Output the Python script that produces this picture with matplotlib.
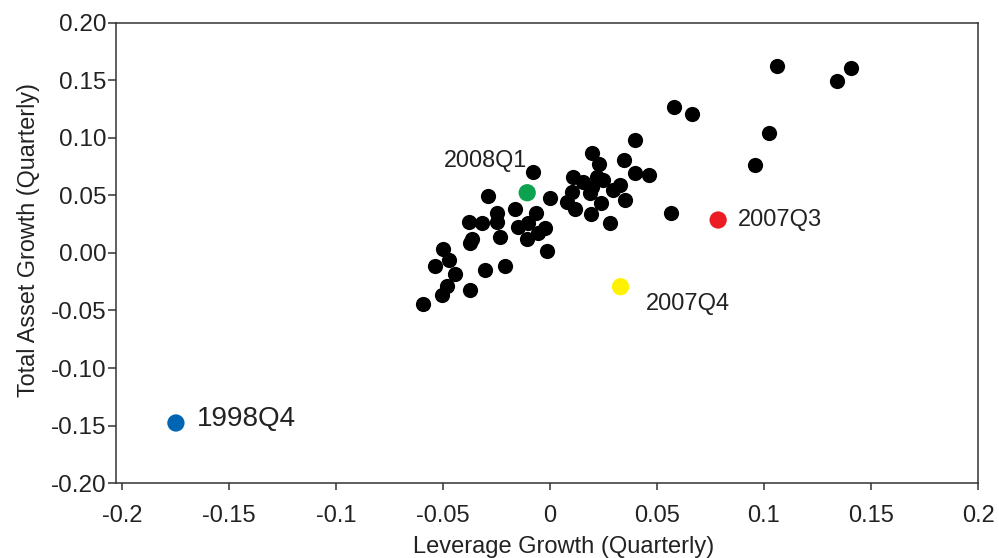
import matplotlib
matplotlib.use('Agg')
import matplotlib.pyplot as plt

# quarterly leverage growth vs total asset growth
lev_growth = [0.1059, 0.1406, 0.1339, 0.0579, 0.0662, 0.1024, 0.0958, 0.0568,
              0.0397, 0.0199, 0.0346, 0.0230, 0.0106, 0.0156, 0.0218, 0.0249,
              0.0397, 0.0464, 0.0195, 0.0327, 0.0296, 0.0101, 0.0187, 0.0000,
              0.0078, 0.0350, 0.0241, 0.0117, 0.0190, 0.0280,
              -0.0081, -0.0288, -0.0163, -0.0246, -0.0246, -0.0065, -0.0377, -0.0319,
              -0.0148, -0.0101, -0.0023, -0.0055, -0.0109, -0.0234, -0.0366, -0.0374,
              -0.0015, -0.0498, -0.0470, -0.0537, -0.0210, -0.0304, -0.0444, -0.0482,
              -0.0506, -0.0374, -0.0595]
asset_growth = [0.1626, 0.1611, 0.1498, 0.1267, 0.1209, 0.1041, 0.0765, 0.0350,
                0.0983, 0.0872, 0.0809, 0.0771, 0.0663, 0.0620, 0.0663, 0.0635,
                0.0693, 0.0678, 0.0577, 0.0591, 0.0548, 0.0533, 0.0519, 0.0476,
                0.0446, 0.0461, 0.0432, 0.0380, 0.0339, 0.0263,
                0.0707, 0.0496, 0.0380, 0.0345, 0.0272, 0.0350, 0.0272, 0.0258,
                0.0229, 0.0258, 0.0215, 0.0171, 0.0119, 0.0142, 0.0119, 0.0084,
                0.0020, 0.0032, -0.0061, -0.0113, -0.0113, -0.0148, -0.0183, -0.0287,
                -0.0365, -0.0322, -0.0443]

# highlighted quarters
hl_labels = ['1998Q4', '2008Q1', '2007Q3', '2007Q4']
hl_lev = [-0.1747, -0.0106, 0.0786, 0.0330]
hl_asset = [-0.1478, 0.0524, 0.0287, -0.0293]
hl_colors = ['#0065b3', '#0ca24f', '#ec1c24', '#fff200']

x_ticks = [-0.2, -0.15, -0.1, -0.05, 0, 0.05, 0.1, 0.15, 0.2]
x_tick_labels = ['-0.2', '-0.15', '-0.1', '-0.05', '0', '0.05', '0.1', '0.15', '0.2']
y_ticks = [-0.20, -0.15, -0.10, -0.05, 0.00, 0.05, 0.10, 0.15, 0.20]
y_tick_labels = ['%.2f' % v for v in y_ticks]


def leverageGraph():
    plt.rcParams['font.family'] = ['Liberation Sans', 'DejaVu Sans']
    plt.rcParams['axes.unicode_minus'] = False
    text_col = '#222222'

    fig = plt.figure(figsize=(9.99, 5.58), dpi=100)
    ax = fig.add_axes([0.1161, 0.1344, 0.8629, 0.8244])

    ax.scatter(lev_growth, asset_growth, s=120, color='black', linewidths=0, zorder=3)
    ax.scatter(hl_lev, hl_asset, s=155, c=hl_colors, linewidths=0, zorder=4)

    # label offsets in points (text position relative to its dot)
    offsets = [(15, 3), (0, 23.5), (14, 0), (18, -12.5)]
    aligns = ['left', 'right', 'left', 'left']
    sizes = [20, 16.8, 17, 17]
    for i in range(len(hl_labels)):
        ax.annotate(hl_labels[i], (hl_lev[i], hl_asset[i]), xytext=offsets[i],
                    textcoords='offset points', ha=aligns[i], va='center',
                    fontsize=sizes[i], color=text_col)

    ax.set_xlim(-0.2027, 0.2)
    ax.set_ylim(-0.2, 0.2)
    ax.set_xticks(x_ticks)
    ax.set_xticklabels(x_tick_labels)
    ax.set_yticks(y_ticks)
    ax.set_yticklabels(y_tick_labels)

    ax.tick_params(axis='x', length=5, width=1.1, pad=11, labelsize=17,
                   colors='#333333', labelcolor=text_col)
    ax.tick_params(axis='y', length=6, width=1.1, pad=1, labelsize=17.5,
                   colors='#333333', labelcolor=text_col)
    for sp in ax.spines.values():
        sp.set_linewidth(1.1)
        sp.set_color('#333333')

    ax.set_xlabel('Leverage Growth (Quarterly)', fontsize=17, color=text_col)
    ax.set_ylabel('Total Asset Growth (Quarterly)', fontsize=16.8, color=text_col)
    ax.xaxis.set_label_coords(0.519, -0.1155)
    ax.yaxis.set_label_coords(-0.088, 0.528)

    fig.savefig('out.png', dpi=100)


if __name__ == "__main__":
    leverageGraph()
